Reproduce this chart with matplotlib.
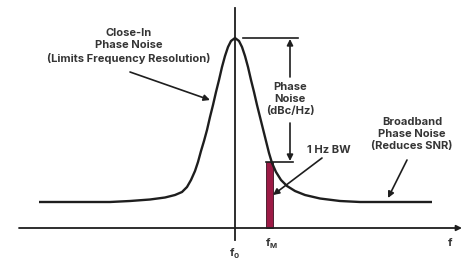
import matplotlib
matplotlib.use("Agg")
import matplotlib.pyplot as plt
from matplotlib.patches import Rectangle

# ---- data (figure pixel units, y grows downward) ----
curve_x = [39, 110, 130, 150, 165, 175, 182, 187, 191, 195, 198, 201, 204, 207,
           210, 213, 216, 219, 222, 225, 228, 231, 235, 239, 242, 245, 248, 251,
           254, 257, 260, 263, 266, 269, 272, 276, 281, 287, 295, 305, 320, 340,
           360, 432]
curve_y = [202, 202, 201, 199.5, 197.5, 195, 192, 187, 180, 171, 162, 151, 141,
           130, 117, 105, 92, 80, 67, 56, 47, 41, 38, 41, 47, 56, 67, 80, 92, 105,
           117, 129, 141, 153, 163, 172, 180, 186, 191, 195, 198.5, 201, 202, 202]

f0 = 235
fM_left, fM_right = 266, 273
carrier_level = 38
offset_level = 162
axis_level = 228

close_in_label = "Close-In\nPhase Noise\n(Limits Frequency Resolution)"
phase_noise_label = "Phase\nNoise\n(dBc/Hz)"
broadband_label = "Broadband\nPhase Noise\n(Reduces SNR)"
bw_label = "1 Hz BW"

LINE = "#1e1e1e"
TEXT = "#353535"
BAR = "#9c1a45"

fig = plt.figure(figsize=(4.67, 2.64), dpi=100)
ax = fig.add_axes([0, 0, 1, 1])
ax.set_xlim(0, 467)
ax.set_ylim(264, 0)
ax.axis("off")

font = dict(family=["Inter", "DejaVu Sans"], fontweight="bold", color=TEXT,
            fontsize=8, linespacing=1.3)

# red 1 Hz bar
ax.add_patch(Rectangle((fM_left, offset_level), fM_right - fM_left,
                       axis_level - offset_level, facecolor=BAR,
                       edgecolor="#3a1020", linewidth=0.6, zorder=2))

# spectrum curve
ax.plot(curve_x, curve_y, color=LINE, lw=1.7, solid_capstyle="butt", zorder=3)

# frequency axis
ax.annotate("", xy=(462, axis_level), xytext=(19, axis_level),
            arrowprops=dict(arrowstyle="-|>", color=LINE, lw=1.3,
                            mutation_scale=8, shrinkA=0, shrinkB=0))
# carrier vertical line
ax.plot([f0, f0], [8, 240], color=LINE, lw=1.3)

# marker lines
ax.plot([243, 298], [carrier_level, carrier_level], color=LINE, lw=1.2)
ax.plot([fM_left, 293], [offset_level, offset_level], color=LINE, lw=1.2)

arrow = dict(arrowstyle="-|>", color=LINE, lw=1.2, mutation_scale=9,
             shrinkA=0, shrinkB=0)
ax.annotate("", xy=(290, carrier_level + 1), xytext=(290, 77), arrowprops=arrow)
ax.annotate("", xy=(290, offset_level - 1), xytext=(290, 123), arrowprops=arrow)
ax.annotate("", xy=(210, 100), xytext=(130, 72), arrowprops=arrow)
ax.annotate("", xy=(388, 198), xytext=(407, 160), arrowprops=arrow)
ax.annotate("", xy=(273, 195), xytext=(322, 158), arrowprops=arrow)

# labels
ax.text(129, 46, close_in_label, ha="center", va="center", **font)
ax.text(290, 99, phase_noise_label, ha="center", va="center", **font)
ax.text(412, 134, broadband_label, ha="center", va="center", **font)
ax.text(329, 150, bw_label, ha="center", va="center", **font)

# axis tick labels: "f" with subscripts
sub = dict(font)
sub["fontsize"] = 5.5
ax.text(f0 - 1, 253, "f", ha="right", va="center", **font)
ax.text(f0 - 1, 256, "0", ha="left", va="center", **sub)
ax.text(270, 243, "f", ha="right", va="center", **font)
ax.text(270, 246, "M", ha="left", va="center", **sub)
ax.text(450, 243, "f", ha="center", va="center", **font)

fig.savefig("out.png", dpi=100)
